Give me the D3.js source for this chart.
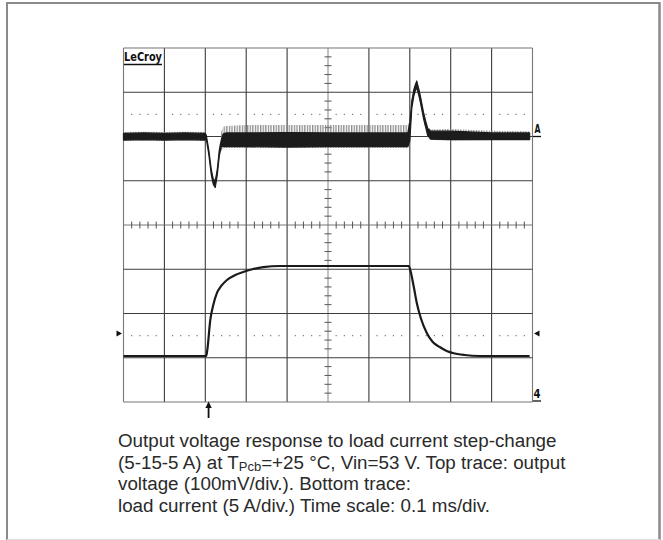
<!DOCTYPE html>
<html>
<head>
<meta charset="utf-8">
<script src="https://cdn.jsdelivr.net/npm/d3@7/dist/d3.min.js"></script>
<style>
  html, body { margin: 0; padding: 0; background: #fff; }
  svg { display: block; }
</style>
</head>
<body>
<svg id="chart" width="663" height="540"></svg>
<script>
// ---------------- DATA ----------------
// Time axis: 0.1 ms/div, 10 divisions
const timeTicks = [0, 0.1, 0.2, 0.3, 0.4, 0.5, 0.6, 0.7, 0.8, 0.9, 1.0];
const divTicks = [0, 1, 2, 3, 4, 5, 6, 7, 8];

// Top trace (A): output voltage deviation from nominal, mV (100 mV/div)
const vTime   = [0, 0.05, 0.10, 0.15, 0.200, 0.2024, 0.2085, 0.2146, 0.2195, 0.2244, 0.2293, 0.2341, 0.2390, 0.2439, 0.2500, 0.30, 0.40, 0.50, 0.60, 0.6951, 0.7000, 0.7049, 0.7098, 0.7146, 0.7171, 0.7195, 0.7244, 0.7293, 0.7341, 0.7390, 0.7439, 0.7512, 0.80, 0.90, 0.993];
const vDarkHi = [7, 8, 7, 8, 7, 3, -30, -74, -97, -100, -74, -32, -8, 6, 8, 8, 9, 8, 8, 8, 30, 80, 106, 120, 125, 116, 98, 75, 52, 34, 18, 12, 12, 8, 8];
const vDarkLo = [-8, -7, -8, -7, -8, -6, -40, -86, -108, -115, -87, -45, -22, -23, -23, -23, -24, -23, -23, -23, -10, 64, 92, 106, 111, 102, 84, 61, 38, 20, 2, -6, -7, -7, -7];
const vGrayHi = [10, 11, 10, 11, 10, 5, -27, -71, -94, -96, -70, -25, 10, 22, 24, 26, 26, 26, 26, 26, 34, 84, 110, 124, 129, 120, 102, 79, 56, 38, 22, 16, 17, 13, 12];
const vGrayLo = [-10, -9, -10, -9, -10, -8, -43, -89, -111, -120, -90, -50, -32, -27, -26, -26, -26, -26, -26, -26, -14, 60, 88, 102, 107, 98, 80, 57, 34, 16, -2, -8, -9, -8, -8];

// Bottom trace (4): load current, A (5 A/div)
const iTime = [0, 0.2024, 0.2049, 0.2122, 0.2195, 0.2285, 0.2390, 0.2529, 0.2732, 0.2927, 0.3171, 0.3415, 0.3829, 0.6976, 0.7024, 0.7098, 0.7171, 0.7268, 0.7415, 0.7561, 0.7732, 0.7902, 0.8049, 0.8341, 0.8707, 0.993];
const iAmps = [5.2, 5.2, 5.88, 9.27, 10.96, 12.32, 13.11, 13.79, 14.35, 14.69, 15.03, 15.25, 15.37, 15.37, 14.69, 12.99, 11.19, 9.49, 7.80, 6.78, 6.21, 5.76, 5.54, 5.31, 5.2, 5.2];

const triggerMarkA = 7.75;   // level marker arrows (A)
const triggerTime = 0.208;   // trigger arrow under the grid (ms)

const captionLines = [
  ["Output voltage response to load current step-change"],
  ["(5-15-5 A) at T", {sub: "Pcb"}, "=+25 °C, Vin=53 V. Top trace: output"],
  ["voltage (100mV/div.). Bottom trace:"],
  ["load current (5 A/div.) Time scale: 0.1 ms/div."]
];

// ---------------- DRAWING ----------------
const svg = d3.select("#chart");

// Outer frame
svg.append("line").attr("x1", 7).attr("y1", 3).attr("x2", 659.5).attr("y2", 3).attr("stroke", "#8a8a8a").attr("stroke-width", 2);
svg.append("line").attr("x1", 7).attr("y1", 2).attr("x2", 7).attr("y2", 540).attr("stroke", "#8a8a8a").attr("stroke-width", 2);
svg.append("line").attr("x1", 659.5).attr("y1", 2).attr("x2", 659.5).attr("y2", 540).attr("stroke", "#8a8a8a").attr("stroke-width", 2.5);
svg.append("line").attr("x1", 7).attr("y1", 539.5).attr("x2", 660).attr("y2", 539.5).attr("stroke", "#dcdcdc").attr("stroke-width", 1);

const x = d3.scaleLinear().domain([0, 1.0]).range([123.5, 532.5]);
const yDiv = d3.scaleLinear().domain([0, 8]).range([402, 48]);
const yV = d3.scaleLinear().domain([-600, 200]).range([402, 48]);
const yI = d3.scaleLinear().domain([0, 40]).range([402, 48]);

const defs = svg.append("defs");
const pat = defs.append("pattern").attr("id", "ripple")
  .attr("patternUnits", "userSpaceOnUse").attr("width", 2.6).attr("height", 20);
pat.append("rect").attr("x", 0).attr("y", 0).attr("width", 1.3).attr("height", 20).attr("fill", "#8c8c8c");

const grid = svg.append("g");
// vertical gridlines
grid.selectAll("line.vx").data(timeTicks).enter().append("line")
  .attr("x1", d => x(d)).attr("x2", d => x(d))
  .attr("y1", yDiv(0)).attr("y2", yDiv(8))
  .attr("stroke", (d, i) => (i === 0 || i === timeTicks.length - 1) ? "#777" : (i === 5 ? "#666" : "#3c3c3c"))
  .attr("stroke-width", (d, i) => i === 5 ? 0.8 : 1.1);
// horizontal gridlines
grid.selectAll("line.hy").data(divTicks).enter().append("line")
  .attr("y1", d => yDiv(d)).attr("y2", d => yDiv(d))
  .attr("x1", x(0)).attr("x2", x(1.0))
  .attr("stroke", (d, i) => (i === 0 || i === divTicks.length - 1) ? "#777" : (i === 4 ? "#666" : "#3c3c3c"))
  .attr("stroke-width", (d, i) => i === 4 ? 0.9 : 1.1);

// centre-line minor ticks
const minorX = d3.range(0, 50).map(k => k * 0.02).filter(t => Math.round(t * 50) % 5 !== 0);
grid.selectAll("line.tx").data(minorX).enter().append("line")
  .attr("x1", d => x(d)).attr("x2", d => x(d))
  .attr("y1", yDiv(4) - 3.5).attr("y2", yDiv(4) + 3.5)
  .attr("stroke", "#555").attr("stroke-width", 1);
const minorY = d3.range(0, 40).map(k => k * 0.2).filter(v => Math.round(v * 5) % 5 !== 0);
grid.selectAll("line.ty").data(minorY).enter().append("line")
  .attr("y1", d => yDiv(d)).attr("y2", d => yDiv(d))
  .attr("x1", x(0.5) - 3.5).attr("x2", x(0.5) + 3.5)
  .attr("stroke", "#555").attr("stroke-width", 1);

// dotted reference lines
[6.5, 1.5].forEach(lv => {
  grid.selectAll(null).data(minorX).enter().append("rect")
    .attr("x", d => x(d) - 0.6).attr("y", yDiv(lv) - 0.6)
    .attr("width", 1.2).attr("height", 1.2).attr("fill", "#777");
});

// LeCroy logo
svg.append("text").attr("x", 124).attr("y", 60.5)
  .attr("font-family", "DejaVu Sans Condensed, DejaVu Sans").attr("font-weight", "bold")
  .attr("font-size", 12).attr("textLength", 38).attr("lengthAdjust", "spacingAndGlyphs")
  .attr("fill", "#111").text("LeCroy");
svg.append("line").attr("x1", 124).attr("x2", 162).attr("y1", 64.5).attr("y2", 64.5)
  .attr("stroke", "#111").attr("stroke-width", 1.5);

// Top trace: ripple envelope + dark band
const vData = vTime.map((t, i) => ({t, dh: vDarkHi[i], dl: vDarkLo[i], gh: vGrayHi[i], gl: vGrayLo[i]}));
svg.append("path").datum(vData)
  .attr("d", d3.area().x(d => x(d.t)).y0(d => yV(d.gl)).y1(d => yV(d.gh)))
  .attr("fill", "url(#ripple)");
svg.append("path").datum(vData)
  .attr("d", d3.area().x(d => x(d.t)).y0(d => yV(d.dl)).y1(d => yV(d.dh)))
  .attr("fill", "#1c1c1c").attr("stroke", "#1c1c1c").attr("stroke-width", 1.2).attr("stroke-linejoin", "round");

// Bottom trace: load current
const iData = iTime.map((t, i) => ({t, a: iAmps[i]}));
svg.append("path").datum(iData)
  .attr("d", d3.line().x(d => x(d.t)).y(d => yI(d.a)).curve(d3.curveMonotoneX))
  .attr("fill", "none").attr("stroke", "#1a1a1a").attr("stroke-width", 2.2);

// channel markers
svg.append("text").attr("x", 534.5).attr("y", 133)
  .attr("font-family", "DejaVu Sans Condensed, DejaVu Sans").attr("font-weight", "bold")
  .attr("font-size", 13).attr("textLength", 6).attr("lengthAdjust", "spacingAndGlyphs")
  .attr("fill", "#111").text("A");
svg.append("line").attr("x1", 533).attr("x2", 541).attr("y1", yV(0)).attr("y2", yV(0))
  .attr("stroke", "#111").attr("stroke-width", 1.3);
svg.append("text").attr("x", 533.5).attr("y", 398)
  .attr("font-family", "DejaVu Sans Condensed, DejaVu Sans").attr("font-weight", "bold")
  .attr("font-size", 13).attr("textLength", 7).attr("lengthAdjust", "spacingAndGlyphs")
  .attr("fill", "#111").text("4");
svg.append("line").attr("x1", 533).attr("x2", 541).attr("y1", yI(0) - 1).attr("y2", yI(0) - 1)
  .attr("stroke", "#111").attr("stroke-width", 1.3);

const ty = yI(triggerMarkA);
svg.append("path").attr("d", `M${x(0) - 7},${ty - 3} L${x(0) - 1.5},${ty} L${x(0) - 7},${ty + 3} Z`).attr("fill", "#111");
svg.append("path").attr("d", `M${x(1) + 7},${ty - 3} L${x(1) + 1.5},${ty} L${x(1) + 7},${ty + 3} Z`).attr("fill", "#111");

// trigger arrow
const ax = x(triggerTime);
svg.append("line").attr("x1", ax).attr("x2", ax).attr("y1", 406).attr("y2", 418)
  .attr("stroke", "#111").attr("stroke-width", 1.8);
svg.append("path").attr("d", `M${ax},${401.5} L${ax - 3.2},${408} L${ax + 3.2},${408} Z`).attr("fill", "#111");

// Caption
const cap = svg.append("text").attr("font-family", "Liberation Sans, Arial, Helvetica, sans-serif")
  .attr("font-size", 18.8).attr("fill", "#2a2a2a");
captionLines.forEach((parts, li) => {
  const line = cap.append("tspan").attr("x", 118).attr("y", 447 + li * 21.6);
  let shifted = false;
  parts.forEach(p => {
    if (typeof p === "string") {
      const s = line.append("tspan").text(p);
      if (shifted) { s.attr("dy", -2.5); shifted = false; }
    } else {
      line.append("tspan").attr("font-size", 13).attr("dy", 2.5).text(p.sub);
      shifted = true;
    }
  });
});
</script>
</body>
</html>
